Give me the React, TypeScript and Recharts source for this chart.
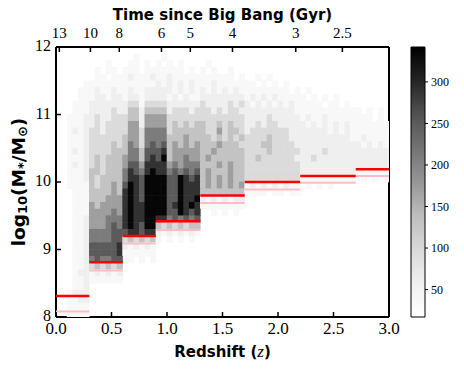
import React from "react";
import {
  ScatterChart, Scatter, XAxis, YAxis,
  ComposedChart, ReferenceArea,
} from "recharts";

// 2D histogram, bins of 0.05 in z (60 columns) and 0.1 dex in mass (40 rows).
// Each row is read top (11.9-12.0) to bottom (8.0-8.1); digits are count levels.
// Column groups: 0-0.3 | 0.3-0.6 | 0.6-0.9 | 0.9-1.3 | 1.3-1.7 | 1.7-2.2 | 2.2-2.7 | 2.7-3.0
const HIST_ROWS = [
  "000000 000000 000000 00000000 00000000 0000000000 0000000000 000000",
  "000000 000000 001000 01000000 00000000 0000000000 0000000000 000000",
  "000000 000100 011010 10101000 01000000 0000000000 0000000000 000000",
  "000000 010110 111011 11111010 10100100 0000000000 0000000000 000000",
  "000000 011011 121112 11211111 11111101 0010100000 0000000000 000000",
  "000001 111111 111111 21212121 11211111 1101010100 0000000000 000000",
  "000011 121121 121122 22212121 21212121 1111111101 0100000000 000000",
  "000011 122122 122122 22121211 22222222 1212121111 1010101000 000000",
  "000111 222222 233133 33222222 32222323 2121212121 1111011010 000000",
  "000111 222232 244244 44233323 33232332 2222222221 1111111111 101010",
  "001112 232233 344255 55333333 33333333 2222322222 1211211111 111010",
  "001112 232333 355255 55343434 43343433 2232332222 2121212121 111111",
  "001212 332333 355366 66344444 43353443 2333333322 2222212121 111111",
  "001112 333333 455366 66444544 44343434 3333433322 2222222221 121111",
  "001112 333343 465367 67454545 44454443 3334433332 2222222222 212121",
  "001212 333344 466477 78455555 44544444 3333433333 2222322222 222222",
  "001112 343444 566478 79455655 45444444 3343333332 2232222222 222222",
  "001212 343444 577588 88565666 44454544 3333333333 2222222222 222222",
  "001112 443444 687689 88676767 45444544 3333333333 2222222222 111111",
  "001112 434444 688799 99779878 45454544 3333333333 1111111111 010101",
  "001111 434454 798799 99779888 45454545 1212121211 0101010000 000000",
  "000111 444454 898799 99779888 44444444 1111011011 0000000000 000000",
  "000111 444555 898799 99779889 21212122 0000000000 0000000000 000000",
  "000111 545555 898899 99789898 11111111 0000000000 0000000000 000000",
  "000111 555565 898899 99779878 00101010 0000000000 0000000000 000000",
  "000112 555666 898899 88676767 00000000 0000000000 0000000000 000000",
  "000112 555676 898799 43434344 00000000 0000000000 0000000000 000000",
  "000112 666677 788788 21212121 00000000 0000000000 0000000000 000000",
  "000112 666677 343434 10101010 00000000 0000000000 0000000000 000000",
  "000112 777778 212121 00000000 00000000 0000000000 0000000000 000000",
  "000112 777778 111111 00000000 00000000 0000000000 0000000000 000000",
  "000112 676677 010101 00000000 00000000 0000000000 0000000000 000000",
  "000112 343434 000000 00000000 00000000 0000000000 0000000000 000000",
  "000122 121212 000000 00000000 00000000 0000000000 0000000000 000000",
  "000112 111111 000000 00000000 00000000 0000000000 0000000000 000000",
  "000112 000000 000000 00000000 00000000 0000000000 0000000000 000000",
  "001222 000000 000000 00000000 00000000 0000000000 0000000000 000000",
  "001122 000000 000000 00000000 00000000 0000000000 0000000000 000000",
  "001111 000000 000000 00000000 00000000 0000000000 0000000000 000000",
  "001111 000000 000000 00000000 00000000 0000000000 0000000000 000000",
];
const LEVEL_COUNTS = [0, 35, 60, 95, 130, 170, 210, 250, 290, 335];

const Z_STEP = 0.05;
const M_STEP = 0.1;
const M_TOP = 12;

// mass-completeness steps
const BIN_EDGES = [0, 0.3, 0.6, 0.9, 1.3, 1.7, 2.2, 2.7, 3.0];
const LIMIT_MAIN = [8.31, 8.81, 9.2, 9.42, 9.8, 10.0, 10.09, 10.19];
const LIMIT_LOW = [8.08, 8.69, 9.09, 9.29, 9.69, 9.89, 9.99, 10.09];

const Z_TICKS = [0, 0.5, 1, 1.5, 2, 2.5, 3];
const M_TICKS = [8, 9, 10, 11, 12];
const AGE_Z = [0.03, 0.31, 0.57, 0.95, 1.21, 1.59, 2.16, 2.58];
const AGE_LABELS = ["13", "10", "8", "6", "5", "4", "3", "2.5"];
const CBAR_TICKS = [50, 100, 150, 200, 250, 300];
const V_MIN = 17;
const V_MAX = 342;

// matplotlib "Greys"
const GREYS: [number, number][] = [
  [0, 255], [0.125, 240], [0.25, 217], [0.375, 189], [0.5, 150],
  [0.625, 115], [0.75, 82], [0.875, 37], [1, 0],
];

function grey(v: number) {
  const t = Math.max(0, Math.min(1, (v - V_MIN) / (V_MAX - V_MIN)));
  for (let i = 1; i < GREYS.length; i++) {
    if (t <= GREYS[i][0]) {
      const [t0, g0] = GREYS[i - 1];
      const [t1, g1] = GREYS[i];
      const g = Math.round(g0 + ((t - t0) / (t1 - t0)) * (g1 - g0));
      return `rgb(${g},${g},${g})`;
    }
  }
  return "rgb(0,0,0)";
}

const cells: { z: number; m: number; v: number }[] = [];
HIST_ROWS.forEach((row, r) => {
  const levels = row.replace(/ /g, "");
  const mLow = M_TOP - (r + 1) * M_STEP;
  for (let c = 0; c < levels.length; c++) {
    const lv = Number(levels[c]);
    if (!lv) continue;
    cells.push({ z: (c + 0.5) * Z_STEP, m: mLow + M_STEP / 2, v: LEVEL_COUNTS[lv] });
  }
});

const stepSegments = (limits: number[]) =>
  limits.map((m, i) => [
    { z: BIN_EDGES[i], m },
    { z: BIN_EDGES[i + 1], m },
  ]);
const mainSegments = stepSegments(LIMIT_MAIN);
const lowSegments = stepSegments(LIMIT_LOW);
const topAxisPoints = AGE_Z.map((z) => ({ z, m: 12 }));

// layout
const W = 405;
const H = 371;
const LEFT_W = 56;
const RIGHT_W = 16;
const TOP_H = 47;
const BOTTOM_H = 54;
const PLOT_W = W - LEFT_W - RIGHT_W;
const PLOT_H = H - TOP_H - BOTTOM_H;
const CELL_W = PLOT_W / 60;
const CELL_H = PLOT_H / 40;

const SERIF = "'Liberation Serif', 'DejaVu Serif', serif";
const SANS = "'DejaVu Sans', sans-serif";
const TM = 6;
const IN_TICK = 5;

function CellShape(props: any) {
  const { cx, cy, payload } = props;
  return (
    <rect
      x={cx - CELL_W / 2 - 0.3}
      y={cy - CELL_H / 2 - 0.3}
      width={CELL_W + 0.6}
      height={CELL_H + 0.6}
      fill={grey(payload.v)}
    />
  );
}

const NoDot = () => <g />;

function BottomTick({ x, y, payload }: any) {
  return (
    <g>
      <line x1={x} x2={x} y1={y - TM} y2={y - TM - IN_TICK} stroke="#000" strokeWidth={1.5} />
      <text x={x} y={y + 11} textAnchor="middle" fontFamily={SERIF} fontSize={17} fill="#000">
        {Number(payload.value).toFixed(1)}
      </text>
    </g>
  );
}

function TopTick({ x, y, payload, index }: any) {
  return (
    <g>
      <line x1={x} x2={x} y1={y + TM} y2={y + TM + IN_TICK} stroke="#000" strokeWidth={1.5} />
      <text x={x} y={y - 3} textAnchor="middle" fontFamily={SERIF} fontSize={15} fill="#000">
        {AGE_LABELS[index] ?? payload.value}
      </text>
    </g>
  );
}

function LeftTick({ x, y, payload }: any) {
  return (
    <g>
      <line x1={x + TM} x2={x + TM + IN_TICK} y1={y} y2={y} stroke="#000" strokeWidth={1.5} />
      <text x={x + 1} y={y - 1} dy="0.32em" textAnchor="end" fontFamily={SERIF} fontSize={16} fill="#000">
        {payload.value}
      </text>
    </g>
  );
}

function YTitle({ viewBox }: any) {
  const cx = viewBox.x + 18;
  const cy = viewBox.y + viewBox.height / 2;
  return (
    <text
      x={cx}
      y={cy}
      transform={`rotate(-90, ${cx}, ${cy})`}
      textAnchor="middle"
      dominantBaseline="central"
      fontFamily={SANS}
      fontWeight="bold"
      fontSize={18.5}
      fill="#000"
    >
      log
      <tspan fontSize={13} dy={4}>10</tspan>
      <tspan dy={-4}>(M</tspan>
      <tspan fontSize={13} dy={4}>*</tspan>
      <tspan dy={-4}>/M</tspan>
      <tspan fontSize={13} dy={4}>⊙</tspan>
      <tspan dy={-4}>)</tspan>
    </text>
  );
}

function XTitle({ viewBox }: any) {
  return (
    <text
      x={viewBox.x + viewBox.width / 2}
      y={viewBox.y + 40}
      textAnchor="middle"
      fontFamily={SANS}
      fontWeight="bold"
      fontSize={15}
      fill="#000"
    >
      Redshift (
      <tspan fontFamily={SERIF} fontStyle="italic" fontWeight="normal" fontSize={17}>z</tspan>)
    </text>
  );
}

function TopTitle({ viewBox }: any) {
  return (
    <text
      x={viewBox.x + viewBox.width / 2}
      y={20}
      textAnchor="middle"
      fontFamily={SANS}
      fontWeight="bold"
      fontSize={15}
      fill="#000"
    >
      Time since Big Bang (Gyr)
    </text>
  );
}

function MainChart() {
  return (
    <ScatterChart
      width={W}
      height={H}
      margin={{ top: 0, right: 0, bottom: 0, left: 0 }}
      style={{ overflow: "visible" }}
    >
      <XAxis
        xAxisId="bottom"
        dataKey="z"
        type="number"
        domain={[0, 3]}
        ticks={Z_TICKS}
        interval={0}
        allowDataOverflow
        height={BOTTOM_H}
        axisLine={{ stroke: "#000", strokeWidth: 2 }}
        tickLine={false}
        tickSize={0}
        tickMargin={TM}
        tick={<BottomTick />}
        label={{ content: <XTitle /> }}
      />
      <XAxis
        xAxisId="top"
        dataKey="z"
        orientation="top"
        type="number"
        domain={[0, 3]}
        ticks={AGE_Z}
        interval={0}
        allowDataOverflow
        height={TOP_H}
        axisLine={{ stroke: "#000", strokeWidth: 2 }}
        tickLine={false}
        tickSize={0}
        tickMargin={TM}
        tick={<TopTick />}
        label={{ content: <TopTitle /> }}
      />
      <YAxis
        yAxisId="left"
        dataKey="m"
        type="number"
        domain={[8, 12]}
        ticks={M_TICKS}
        interval={0}
        allowDataOverflow
        width={LEFT_W}
        axisLine={{ stroke: "#000", strokeWidth: 2 }}
        tickLine={false}
        tickSize={0}
        tickMargin={TM}
        tick={<LeftTick />}
        label={{ content: <YTitle /> }}
      />
      <YAxis
        yAxisId="right"
        dataKey="m"
        orientation="right"
        type="number"
        domain={[8, 12]}
        allowDataOverflow
        width={RIGHT_W}
        tick={false}
        tickLine={false}
        axisLine={{ stroke: "#000", strokeWidth: 2 }}
      />
      <Scatter
        xAxisId="bottom"
        yAxisId="left"
        data={cells}
        shape={<CellShape />}
        isAnimationActive={false}
      />
      {/* carries the top (cosmic time) axis */}
      <Scatter
        xAxisId="top"
        yAxisId="right"
        data={topAxisPoints}
        shape={<NoDot />}
        isAnimationActive={false}
      />
      {lowSegments.map((seg, i) => (
        <Scatter
          key={`low-${i}`}
          xAxisId="bottom"
          yAxisId="left"
          data={seg}
          line={{ stroke: "#ffbcc4", strokeWidth: 2 }}
          shape={<NoDot />}
          isAnimationActive={false}
        />
      ))}
      {mainSegments.map((seg, i) => (
        <Scatter
          key={`main-${i}`}
          xAxisId="bottom"
          yAxisId="left"
          data={seg}
          line={{ stroke: "#ff0000", strokeWidth: 2.5 }}
          shape={<NoDot />}
          isAnimationActive={false}
        />
      ))}
    </ScatterChart>
  );
}

function ColorBar() {
  return (
    <ComposedChart
      width={59}
      height={H}
      data={[{ x: 0.5 }]}
      margin={{ top: TOP_H, right: 0, bottom: BOTTOM_H, left: 6 }}
      style={{ overflow: "visible" }}
    >
      <defs>
        <linearGradient id="cbarGrad" x1="0" y1="1" x2="0" y2="0">
          {GREYS.map(([t, g]) => (
            <stop key={t} offset={t} stopColor={`rgb(${g},${g},${g})`} />
          ))}
        </linearGradient>
      </defs>
      <XAxis dataKey="x" type="number" domain={[0, 1]} hide />
      <YAxis
        orientation="right"
        type="number"
        domain={[V_MIN, V_MAX]}
        ticks={CBAR_TICKS}
        interval={0}
        allowDataOverflow
        width={39}
        axisLine={false}
        tickSize={3}
        tickMargin={3}
        tickLine={{ stroke: "#000", strokeWidth: 1 }}
        tick={{ fontFamily: SERIF, fontSize: 12, fill: "#000" }}
      />
      <ReferenceArea
        x1={0}
        x2={1}
        y1={V_MIN}
        y2={V_MAX}
        fill="url(#cbarGrad)"
        fillOpacity={1}
        stroke="#000"
        strokeWidth={1}
      />
    </ComposedChart>
  );
}

export default function App() {
  return (
    <div style={{ position: "absolute", left: 0, top: 0, width: 464, height: 371, background: "#fff" }}>
      <div style={{ position: "absolute", left: 0, top: 0 }}>
        <MainChart />
      </div>
      <div style={{ position: "absolute", left: W, top: 0 }}>
        <ColorBar />
      </div>
    </div>
  );
}
